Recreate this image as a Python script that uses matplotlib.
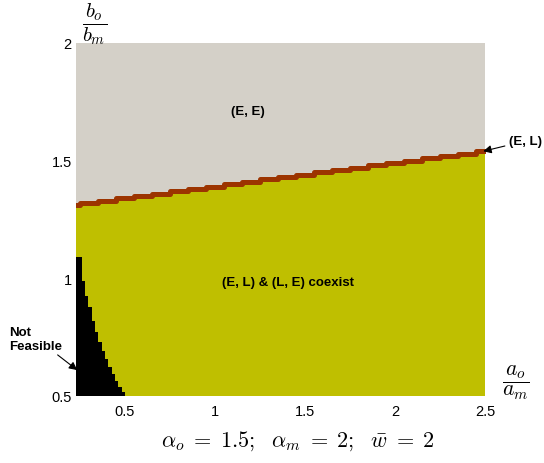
import matplotlib
matplotlib.use('Agg')
import matplotlib.pyplot as plt
from matplotlib.ticker import FormatStrFormatter

plt.rcParams['font.family'] = ['Liberation Sans', 'DejaVu Sans']
plt.rcParams['mathtext.fontset'] = 'cm'

# boundary between (E, E) and the coexist region (step edges)
boundary_x = [0.23, 0.25, 0.35, 0.45, 0.55, 0.65, 0.75, 0.85, 0.95, 1.05, 1.15,
              1.25, 1.35, 1.45, 1.55, 1.65, 1.75, 1.85, 1.95, 2.05, 2.15, 2.25,
              2.35, 2.45, 2.5]
boundary_y = [1.31, 1.32, 1.33, 1.34, 1.35, 1.36, 1.37, 1.38, 1.39, 1.40, 1.41,
              1.42, 1.43, 1.44, 1.45, 1.46, 1.47, 1.48, 1.49, 1.50, 1.51, 1.52,
              1.53, 1.54, 1.54]

# upper edge of the not-feasible region
feas_x = [0.23, 0.259, 0.278, 0.296, 0.315, 0.333, 0.352, 0.371, 0.389, 0.407,
          0.426, 0.444, 0.463, 0.481, 0.5]
feas_y = [1.09, 0.99, 0.927, 0.877, 0.82, 0.772, 0.73, 0.693, 0.657, 0.623,
          0.594, 0.565, 0.538, 0.517, 0.5]

x_ticks = [0.5, 1, 1.5, 2, 2.5]
y_ticks = [0.5, 1, 1.5, 2]

grey = '#d4d0c8'
olive = '#bfbf00'
brown = '#9c3400'

fig = plt.figure(figsize=(5.44, 4.64), dpi=100)
ax = fig.add_axes([0.1397, 0.1444, 0.7535, 0.7608])

ax.fill_between(boundary_x, boundary_y, 2.0, step='post', color=grey, lw=0)
ax.fill_between(boundary_x, 0.5, boundary_y, step='post', color=olive, lw=0)
ax.fill_between(feas_x, 0.5, feas_y, step='post', color='black', lw=0)
ax.step(boundary_x, boundary_y, where='post', color=brown, lw=3.6)

ax.set_xlim(0.228, 2.505)
ax.set_ylim(0.5, 2.0)
ax.set_xticks(x_ticks)
ax.set_yticks(y_ticks)
ax.xaxis.set_major_formatter(FormatStrFormatter('%g'))
ax.yaxis.set_major_formatter(FormatStrFormatter('%g'))
ax.tick_params(length=0, labelsize=10.5)
ax.tick_params(axis='x', pad=6)
ax.tick_params(axis='y', pad=3)
for s in ax.spines.values():
    s.set_visible(False)

# axis labels
fig.text(95 / 544, 1 - 24 / 464, r'$\dfrac{b_o}{b_m}$', fontsize=15,
         ha='center', va='center')
fig.text(516 / 544, 1 - 383 / 464, r'$\dfrac{a_o}{a_m}$', fontsize=15.5,
         ha='center', va='center')
fig.text(298 / 544, 1 - 441 / 464,
         r'$\alpha_o\;=\;1.5;\ \ \alpha_m\;=\;2;\ \ \bar{w}\;=\;2$', fontsize=16,
         ha='center', va='center')

# region labels
ax.text(1.183, 1.71, '(E, E)', fontsize=9.5, fontweight='bold', ha='center', va='center')
ax.text(1.406, 0.985, '(E, L) & (L, E) coexist', fontsize=9.5, fontweight='bold',
        ha='center', va='center')
ax.annotate('(E, L)', xy=(2.49, 1.54), xytext=(509 / 544, 1 - 142 / 464),
            textcoords='figure fraction', fontsize=9.5, fontweight='bold',
            ha='left', va='center', annotation_clip=False,
            arrowprops=dict(arrowstyle='-|>', color='k', lw=0.8,
                            mutation_scale=12, shrinkA=1, shrinkB=0))
ax.annotate('Not\nFeasible', xy=(0.235, 0.61), xytext=(9 / 544, 1 - 340 / 464),
            textcoords='figure fraction', fontsize=9.5, fontweight='bold',
            ha='left', va='center', linespacing=1.25, annotation_clip=False,
            arrowprops=dict(arrowstyle='-|>', color='k', lw=0.8,
                            mutation_scale=12, shrinkA=0, shrinkB=0,
                            relpos=(0.85, 0.0)))

fig.savefig('out.png', dpi=100)
